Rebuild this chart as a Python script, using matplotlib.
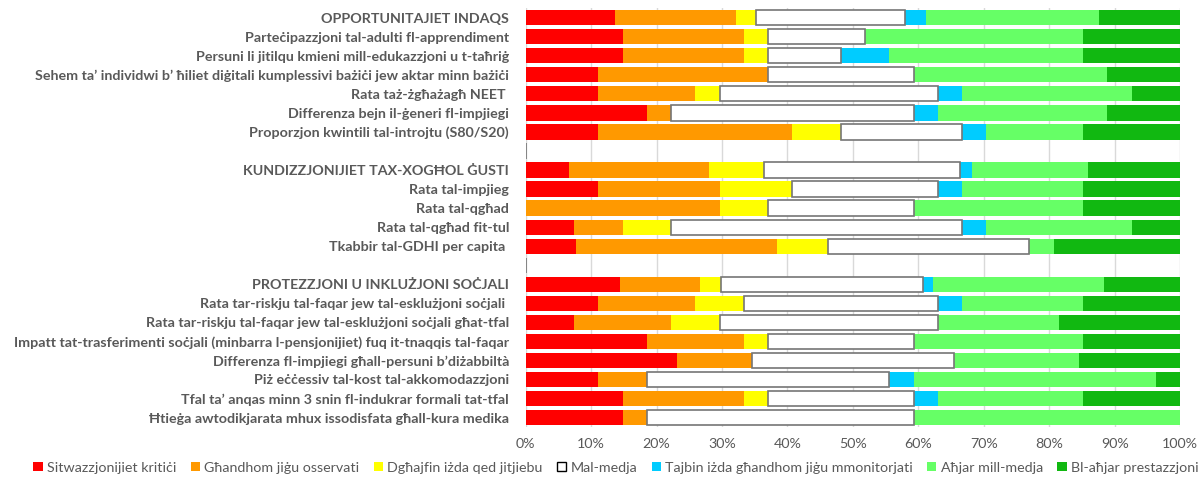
import matplotlib
matplotlib.use('Agg')
import matplotlib.pyplot as plt
from matplotlib.patches import Patch
import numpy as np

plt.rcParams['font.family'] = ['Lato', 'DejaVu Sans']

labels = [
    "OPPORTUNITAJIET INDAQS",
    "Parteċipazzjoni tal-adulti fl-apprendiment",
    "Persuni li jitilqu kmieni mill-edukazzjoni u t-taħriġ",
    "Sehem ta’ individwi b’ ħiliet diġitali kumplessivi bażiċi jew aktar minn bażiċi",
    "Rata taż-żgħażagħ NEET ",
    "Differenza bejn il-ġeneri fl-impjiegi",
    "Proporzjon kwintili tal-introjtu (S80/S20)",
    "",
    "KUNDIZZJONIJIET TAX-XOGĦOL ĠUSTI",
    "Rata tal-impjieg",
    "Rata tal-qgħad",
    "Rata tal-qgħad fit-tul",
    "Tkabbir tal-GDHI per capita ",
    "",
    "PROTEZZJONI U INKLUŻJONI SOĊJALI",
    "Rata tar-riskju tal-faqar jew tal-esklużjoni soċjali ",
    "Rata tar-riskju tal-faqar jew tal-esklużjoni soċjali għat-tfal",
    "Impatt tat-trasferimenti soċjali (minbarra l-pensjonijiet) fuq it-tnaqqis tal-faqar",
    "Differenza fl-impjiegi għall-persuni b’diżabbiltà",
    "Piż eċċessiv tal-kost tal-akkomodazzjoni",
    "Tfal ta’ anqas minn 3 snin fl-indukrar formali tat-tfal",
    "Ħtieġa awtodikjarata mhux issodisfata għall-kura medika",
]

# number of countries in each class (blank rows separate the groups)
kritici   = [22, 4, 4, 3, 3, 5, 3, 0, 7, 3, 0, 2, 2, 0, 27, 3, 2, 5, 6, 3, 4, 4]
osservati = [30, 5, 5, 7, 4, 1, 8, 0, 23, 5, 8, 2, 8, 0, 23, 4, 4, 4, 3, 2, 5, 1]
jitjiebu  = [5, 1, 1, 0, 1, 0, 2, 0, 9, 3, 2, 2, 2, 0, 6, 2, 2, 1, 0, 0, 1, 0]
medja     = [37, 4, 3, 6, 9, 10, 5, 0, 32, 6, 6, 12, 8, 0, 58, 8, 9, 6, 8, 10, 6, 11]
monitor   = [5, 0, 2, 0, 1, 1, 1, 0, 2, 1, 0, 1, 0, 0, 3, 1, 0, 0, 0, 1, 1, 0]
ahjar     = [43, 9, 8, 8, 7, 7, 4, 0, 19, 5, 7, 6, 1, 0, 49, 5, 5, 7, 5, 10, 6, 11]
l_ahjar   = [20, 4, 4, 3, 2, 3, 4, 0, 15, 4, 4, 2, 5, 0, 22, 4, 5, 4, 4, 1, 4, 0]

series = [kritici, osservati, jitjiebu, medja, monitor, ahjar, l_ahjar]
names = ["Sitwazzjonijiet kritiċi", "Għandhom jiġu osservati", "Dgħajfin iżda qed jitjiebu",
         "Mal-medja", "Tajbin iżda għandhom jiġu mmonitorjati", "Aħjar mill-medja",
         "Bl-aħjar prestazzjoni"]
colors = ['#FF0000', '#FF9900', '#FFFF00', '#FFFFFF', '#00CCFF', '#66FF66', '#11B811']

data = np.array(series, dtype=float)
tot = data.sum(axis=0)
tot[tot == 0] = 1
pct = data / tot * 100

fig = plt.figure(figsize=(12.03, 4.82), dpi=100)
ax = fig.add_axes([0.437, 0.114, 0.544, 0.869])

y = np.arange(len(labels))
left = np.zeros(len(labels))
for i in range(len(series)):
    if colors[i] == '#FFFFFF':
        ax.barh(y, pct[i], left=left, height=0.8, color=colors[i], edgecolor='#767676', linewidth=1.2, zorder=3)
    else:
        ax.barh(y, pct[i], left=left, height=0.8, color=colors[i], linewidth=0, zorder=2)
    left += pct[i]

ax.set_xlim(0, 100)
ax.set_ylim(len(labels) - 0.5, -0.5)
ax.set_xticks(np.arange(0, 101, 10))
ax.set_xticklabels([f'{v}%' for v in range(0, 101, 10)])
ax.set_yticks(y)
ax.set_yticklabels(labels, fontweight='bold')
ax.tick_params(length=0, labelsize=10.3, colors='#595959', pad=8)
ax.tick_params(axis='y', pad=12)
ax.grid(axis='x', color='#D9D9D9', linewidth=1, zorder=0)
for s in ax.spines.values():
    s.set_visible(False)

handles = [Patch(facecolor=c, edgecolor='black' if c == '#FFFFFF' else c, linewidth=1 if c == '#FFFFFF' else 0)
           for c in colors]
leg = fig.legend(handles, names, loc='center', bbox_to_anchor=(0.512, 0.03), ncol=7, frameon=False,
                 fontsize=10.3, handlelength=0.65, handleheight=0.65, handletextpad=0.3, columnspacing=1.0)
for t in leg.get_texts():
    t.set_color('#595959')

fig.savefig('out.png', dpi=100)
